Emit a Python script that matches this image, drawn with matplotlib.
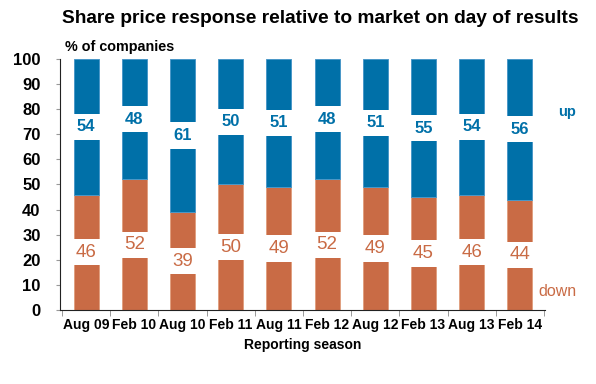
import matplotlib
matplotlib.use("Agg")
import matplotlib.pyplot as plt
import numpy as np

seasons = ["Aug 09", "Feb 10", "Aug 10", "Feb 11", "Aug 11", "Feb 12",
           "Aug 12", "Feb 13", "Aug 13", "Feb 14"]
down = [46, 52, 39, 50, 49, 52, 49, 45, 46, 44]
up = [54, 48, 61, 50, 51, 48, 51, 55, 54, 56]
yticks = [0, 10, 20, 30, 40, 50, 60, 70, 80, 90, 100]

BLUE = "#0070A8"
ORANGE = "#C96B45"

plt.rcParams['font.family'] = ['Liberation Sans', 'DejaVu Sans']

fig = plt.figure(figsize=(5.96, 3.84), dpi=100)
ax = fig.add_axes([0.1007, 0.1927, 0.8137, 0.6537])

x = np.arange(len(seasons))
w = 0.52
down_a = np.array(down)
up_a = np.array(up)

ax.bar(x, down_a, width=w, color=ORANGE, edgecolor="#E0A080", linewidth=0.7)
ax.bar(x, up_a, width=w, bottom=down_a, color=BLUE, edgecolor="#4A98C8", linewidth=0.7)

gap = 5.2
mid_d = down_a / 2
mid_u = down_a + up_a / 2
ax.bar(x, 2 * gap, width=w + 0.06, bottom=mid_d - gap, color="white", linewidth=0)
ax.bar(x, 2 * gap, width=w + 0.06, bottom=mid_u - gap, color="white", linewidth=0)

for xi, d, md in zip(x, down, mid_d):
    ax.text(xi, md, str(d), ha="center", va="center", color=ORANGE, fontsize=13.5)
for xi, u, mu in zip(x, up, mid_u):
    ax.text(xi, mu, str(u), ha="center", va="center", color=BLUE, fontsize=12,
            fontweight="bold")

ax.set_xlim(-0.54, 9.52)
ax.set_ylim(0, 100)
ax.set_yticks(yticks)
ax.set_yticklabels([str(t) for t in yticks], fontsize=12, fontweight="bold")
ax.set_xticks(x)
ax.set_xticklabels(seasons, fontsize=10, fontweight="bold")
ax.set_xticks(np.arange(len(seasons) + 1) - 0.5, minor=True)
ax.tick_params(axis="x", which="major", length=0, pad=6)
ax.tick_params(axis="x", which="minor", length=4, direction="out", color="#888888")
ax.tick_params(axis="y", length=3, direction="out", color="#999999", pad=11)

for s in ["top", "right"]:
    ax.spines[s].set_visible(False)
ax.spines["left"].set_color("#222222")
ax.spines["bottom"].set_color("#222222")

ax.set_xlabel("Reporting season", fontsize=10, fontweight="bold", labelpad=4)

ax.text(9.98, 78.9, "up", color=BLUE, fontsize=10.5, fontweight="bold",
        ha="center", va="center", clip_on=False)
ax.text(9.77, 7.2, "down", color=ORANGE, fontsize=11.5,
        ha="center", va="center", clip_on=False)

fig.text(0.537, 0.953, "Share price response relative to market on day of results",
         ha="center", va="center", fontsize=13.8, fontweight="bold")
fig.text(0.109, 0.878, "% of companies", ha="left", va="center",
         fontsize=10.4, fontweight="bold")

fig.savefig("out.png", dpi=100)
